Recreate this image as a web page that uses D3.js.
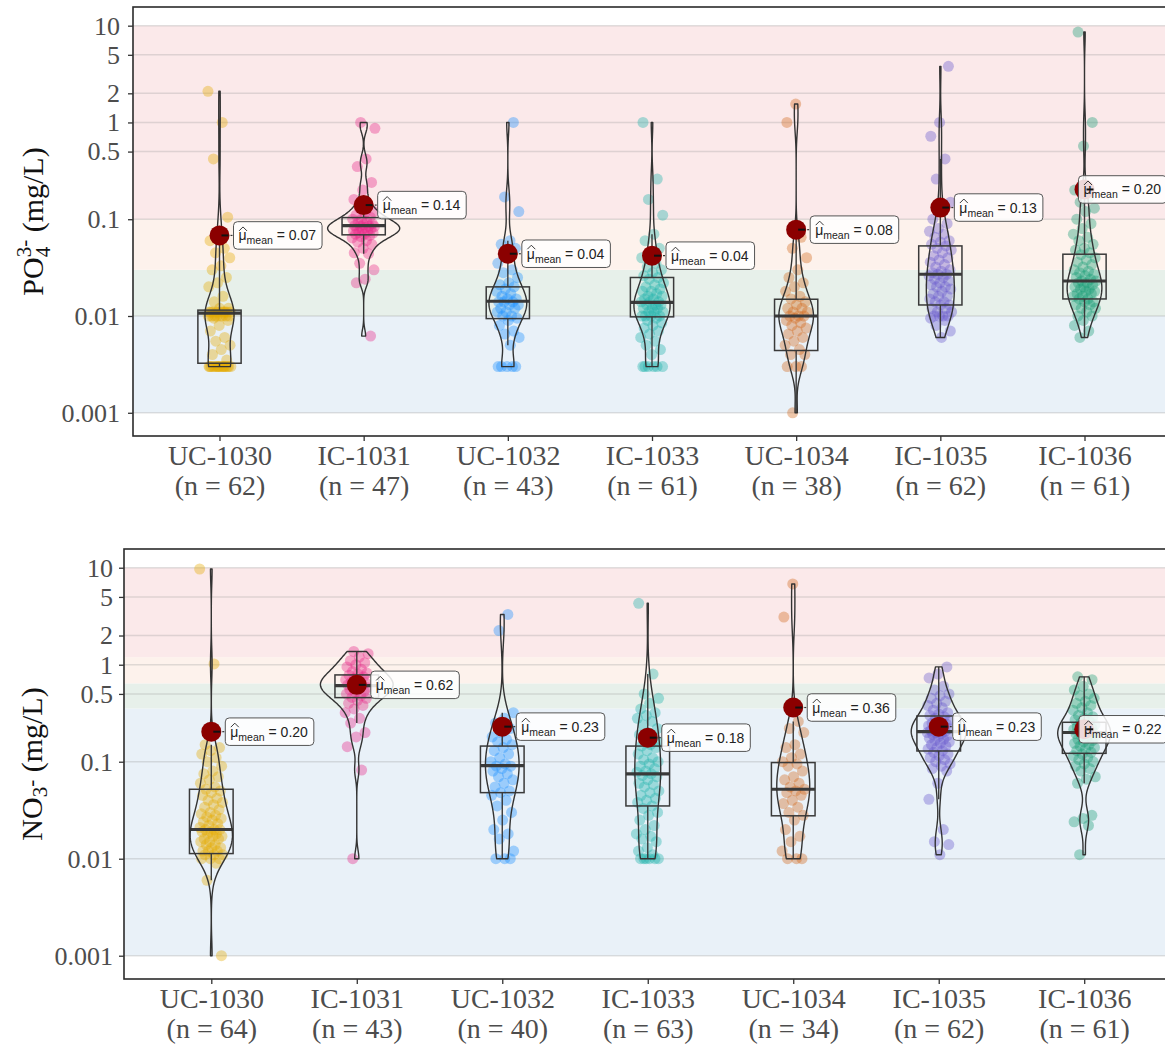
<!DOCTYPE html>
<html>
<head>
<meta charset="utf-8">
<script src="https://cdn.jsdelivr.net/npm/d3@7"></script>
<style>
  body { margin: 0; background: #fff; }
  svg { display: block; }
</style>
</head>
<body>
<div id="chart"></div>
<script>
const sites = ['UC-1030', 'IC-1031', 'UC-1032', 'IC-1033', 'UC-1034', 'IC-1035', 'IC-1036'];
const siteColors = ['#E6AB02', '#E7298A', '#1E90FF', '#20B2AA', '#D2691E', '#6A5ACD', '#1B9E77'];

const yTicks = [10, 5, 2, 1, 0.5, 0.1, 0.01, 0.001];
const yTickLabels = ['10', '5', '2', '1', '0.5', '0.1', '0.01', '0.001'];

// PO4 panel
const po4N = [62, 47, 43, 61, 38, 62, 61];
const po4Means = [0.068, 0.14, 0.044, 0.042, 0.078, 0.132, 0.203];
const po4Box = [ // q1, median, q3
  [0.00325, 0.0107, 0.0115],
  [0.069, 0.086, 0.104],
  [0.0094, 0.0142, 0.020],
  [0.0098, 0.0138, 0.025],
  [0.0044, 0.010, 0.0149],
  [0.013, 0.027, 0.053],
  [0.015, 0.023, 0.0435]
];
const po4Bands = [0.001, 0.01, 0.03, 0.1, 10];
const po4Values = [
  [2.1, 1.0, 0.42, 0.105, 0.07, 0.06, 0.05, 0.045, 0.04, 0.033, 0.03, 0.025, 0.022, 0.02, 0.016, 0.014,
   0.012, 0.012, 0.011, 0.011, 0.011, 0.011, 0.011, 0.011, 0.011, 0.011, 0.011, 0.011,
   0.01, 0.01, 0.01, 0.01, 0.01, 0.01, 0.01, 0.01,
   0.0095, 0.009, 0.008, 0.007, 0.006, 0.0055, 0.005, 0.0045, 0.004, 0.0035,
   0.003, 0.003, 0.003, 0.003, 0.003, 0.003, 0.003, 0.003, 0.003, 0.003, 0.003, 0.003, 0.003, 0.003, 0.003, 0.003],
  [1.0, 0.87, 0.42, 0.35, 0.24, 0.2, 0.16, 0.14, 0.13, 0.12, 0.115, 0.11, 0.105, 0.1, 0.1, 0.095, 0.092, 0.09,
   0.088, 0.086, 0.085, 0.085, 0.084, 0.082, 0.08, 0.08, 0.078, 0.076, 0.075, 0.073, 0.072, 0.07, 0.07, 0.068,
   0.066, 0.064, 0.06, 0.058, 0.055, 0.05, 0.045, 0.044, 0.035, 0.03, 0.024, 0.022, 0.0062],
  [1.0, 0.17, 0.12, 0.06, 0.055, 0.05, 0.04, 0.035, 0.03, 0.028, 0.025, 0.022, 0.021, 0.02, 0.019, 0.018, 0.017,
   0.016, 0.015, 0.015, 0.014, 0.014, 0.014, 0.013, 0.013, 0.012, 0.012, 0.011, 0.011, 0.01, 0.01, 0.0095, 0.009,
   0.008, 0.007, 0.0065, 0.006, 0.005, 0.003, 0.003, 0.003, 0.003, 0.003],
  [1.0, 0.26, 0.16, 0.11, 0.07, 0.06, 0.05, 0.045, 0.04, 0.035, 0.032, 0.03, 0.028, 0.026, 0.025, 0.024, 0.022,
   0.021, 0.02, 0.019, 0.018, 0.018, 0.017, 0.016, 0.016, 0.015, 0.015, 0.014, 0.014, 0.014, 0.013, 0.013, 0.013,
   0.012, 0.012, 0.012, 0.011, 0.011, 0.011, 0.01, 0.01, 0.01, 0.01, 0.0095, 0.009, 0.0085, 0.008, 0.0075, 0.007,
   0.0065, 0.006, 0.0055, 0.005, 0.0045, 0.004, 0.003, 0.003, 0.003, 0.003, 0.003, 0.003],
  [1.55, 1.0, 0.065, 0.05, 0.04, 0.03, 0.025, 0.022, 0.02, 0.018, 0.016, 0.015, 0.014, 0.013, 0.012, 0.012, 0.011,
   0.011, 0.01, 0.01, 0.01, 0.0095, 0.009, 0.0085, 0.008, 0.0075, 0.007, 0.0065, 0.006, 0.0055, 0.005, 0.0045,
   0.004, 0.004, 0.003, 0.003, 0.003, 0.001],
  [3.8, 1.0, 0.72, 0.42, 0.26, 0.15, 0.12, 0.1, 0.09, 0.08, 0.075, 0.07, 0.065, 0.06, 0.058, 0.055, 0.053, 0.05,
   0.048, 0.045, 0.042, 0.04, 0.038, 0.036, 0.034, 0.032, 0.03, 0.029, 0.028, 0.027, 0.027, 0.026, 0.025, 0.024,
   0.023, 0.022, 0.021, 0.02, 0.02, 0.019, 0.018, 0.017, 0.016, 0.016, 0.015, 0.014, 0.014, 0.013, 0.013, 0.012,
   0.012, 0.011, 0.011, 0.01, 0.01, 0.01, 0.01, 0.0095, 0.009, 0.008, 0.007, 0.006],
  [8.6, 1.0, 0.57, 0.2, 0.17, 0.15, 0.13, 0.12, 0.1, 0.09, 0.08, 0.07, 0.065, 0.06, 0.055, 0.05, 0.048, 0.045,
   0.043, 0.04, 0.038, 0.036, 0.034, 0.032, 0.03, 0.029, 0.028, 0.027, 0.026, 0.025, 0.024, 0.023, 0.023, 0.022,
   0.022, 0.021, 0.02, 0.02, 0.019, 0.019, 0.018, 0.018, 0.017, 0.017, 0.016, 0.016, 0.015, 0.015, 0.014, 0.014,
   0.013, 0.013, 0.012, 0.012, 0.011, 0.01, 0.01, 0.009, 0.008, 0.007, 0.006]
];

// NO3 panel
const no3N = [64, 43, 40, 63, 34, 62, 61];
const no3Means = [0.204, 0.62, 0.23, 0.177, 0.362, 0.23, 0.216];
const no3Box = [
  [0.0113, 0.020, 0.052],
  [0.458, 0.61, 0.785],
  [0.048, 0.091, 0.145],
  [0.035, 0.075, 0.145],
  [0.0277, 0.052, 0.098],
  [0.129, 0.204, 0.296],
  [0.122, 0.20, 0.255]
];
const no3Bands = [0.001, 0.354, 0.642, 1.196, 10];
const no3Values = [
  [9.7, 1.02, 0.15, 0.14, 0.13, 0.12, 0.11, 0.1, 0.09, 0.08, 0.075, 0.07, 0.065, 0.06, 0.055, 0.052, 0.05, 0.048,
   0.045, 0.042, 0.04, 0.038, 0.036, 0.034, 0.032, 0.03, 0.029, 0.028, 0.027, 0.026, 0.025, 0.024, 0.023, 0.022,
   0.021, 0.02, 0.02, 0.02, 0.019, 0.019, 0.018, 0.018, 0.017, 0.017, 0.016, 0.016, 0.015, 0.015, 0.014, 0.014,
   0.013, 0.013, 0.012, 0.012, 0.012, 0.011, 0.011, 0.011, 0.01, 0.01, 0.01, 0.009, 0.006, 0.001],
  [1.37, 1.3, 1.2, 1.1, 1.05, 1.0, 0.95, 0.9, 0.85, 0.82, 0.8, 0.78, 0.75, 0.72, 0.7, 0.68, 0.66, 0.65, 0.63,
   0.62, 0.61, 0.6, 0.58, 0.56, 0.55, 0.53, 0.52, 0.5, 0.48, 0.46, 0.45, 0.43, 0.4, 0.38, 0.35, 0.32, 0.28, 0.25,
   0.2, 0.18, 0.143, 0.082, 0.01],
  [3.3, 2.25, 0.32, 0.28, 0.25, 0.22, 0.2, 0.18, 0.17, 0.16, 0.15, 0.14, 0.13, 0.12, 0.11, 0.1, 0.095, 0.09, 0.09,
   0.085, 0.08, 0.075, 0.07, 0.065, 0.06, 0.055, 0.05, 0.048, 0.045, 0.04, 0.035, 0.03, 0.025, 0.02, 0.018, 0.016,
   0.012, 0.01, 0.01, 0.01],
  [4.3, 0.8, 0.5, 0.45, 0.4, 0.35, 0.32, 0.3, 0.28, 0.26, 0.24, 0.22, 0.2, 0.19, 0.18, 0.17, 0.16, 0.15, 0.145,
   0.14, 0.13, 0.12, 0.11, 0.105, 0.1, 0.095, 0.09, 0.085, 0.08, 0.078, 0.075, 0.072, 0.07, 0.065, 0.06, 0.058,
   0.055, 0.05, 0.048, 0.045, 0.042, 0.04, 0.038, 0.035, 0.033, 0.03, 0.028, 0.025, 0.022, 0.02, 0.018, 0.017,
   0.016, 0.015, 0.013, 0.012, 0.011, 0.01, 0.01, 0.01, 0.01, 0.01, 0.01],
  [6.8, 3.1, 0.26, 0.22, 0.2, 0.15, 0.14, 0.12, 0.11, 0.1, 0.095, 0.09, 0.08, 0.07, 0.065, 0.06, 0.055, 0.052,
   0.05, 0.048, 0.045, 0.04, 0.037, 0.034, 0.03, 0.028, 0.025, 0.02, 0.017, 0.015, 0.012, 0.01, 0.01, 0.01],
  [0.95, 0.8, 0.73, 0.6, 0.55, 0.5, 0.48, 0.45, 0.42, 0.4, 0.38, 0.36, 0.34, 0.32, 0.31, 0.3, 0.29, 0.28, 0.27,
   0.26, 0.25, 0.245, 0.24, 0.235, 0.23, 0.225, 0.22, 0.215, 0.21, 0.205, 0.2, 0.2, 0.195, 0.19, 0.185, 0.18,
   0.175, 0.17, 0.165, 0.16, 0.155, 0.15, 0.145, 0.14, 0.135, 0.13, 0.125, 0.12, 0.115, 0.11, 0.105, 0.1, 0.095,
   0.09, 0.085, 0.08, 0.06, 0.041, 0.02, 0.015, 0.014, 0.011],
  [0.75, 0.7, 0.6, 0.55, 0.5, 0.48, 0.45, 0.42, 0.4, 0.38, 0.36, 0.34, 0.32, 0.3, 0.29, 0.28, 0.27, 0.26, 0.25,
   0.24, 0.235, 0.23, 0.225, 0.22, 0.215, 0.21, 0.205, 0.2, 0.2, 0.195, 0.19, 0.185, 0.18, 0.175, 0.17, 0.165,
   0.16, 0.155, 0.15, 0.145, 0.14, 0.135, 0.13, 0.125, 0.12, 0.115, 0.11, 0.105, 0.1, 0.095, 0.09, 0.085, 0.08,
   0.07, 0.066, 0.06, 0.028, 0.026, 0.024, 0.022, 0.011]
];

const bandColors = ['#E9F1F8', '#E7F0EA', '#FDF2EC', '#FBE9EA'];
const yDomain = [Math.pow(10, -3.24), Math.pow(10, 1.193)];

const serif = '"Liberation Serif", "Times New Roman", Times, serif';
const sans = '"Liberation Sans", Arial, Helvetica, sans-serif';

const svg = d3.select('#chart').append('svg').attr('width', 1165).attr('height', 1044);

// gaussian kde on log10 values, silverman bandwidth like R's nrd0
function violinProfile(vals) {
  const lv = vals.map(Math.log10).sort(d3.ascending);
  const n = lv.length;
  const sd = d3.deviation(lv);
  const iqr = d3.quantile(lv, 0.75) - d3.quantile(lv, 0.25);
  let lo = Math.min(sd, iqr / 1.34);
  if (!lo) lo = sd;
  const bw = 0.9 * lo * Math.pow(n, -0.2);
  const [mn, mx] = d3.extent(lv);
  return d3.range(0, 257).map(k => {
    const t = mn + (mx - mn) * k / 256;
    const dens = d3.mean(lv, v => Math.exp(-0.5 * ((t - v) / bw) ** 2)) / (bw * Math.sqrt(2 * Math.PI));
    return [t, dens];
  });
}

function drawPanel(p) {
  const x = d3.scalePoint().domain(sites).range([p.left, p.right]).padding(0.6);
  const y = d3.scaleLog().domain(yDomain).range([p.bottom, p.top]);
  const step = x.step();
  const g = svg.append('g');

  g.selectAll('rect.band').data(d3.pairs(p.bands)).join('rect')
    .attr('class', 'band')
    .attr('x', p.left).attr('width', p.right - p.left)
    .attr('y', d => y(d[1])).attr('height', d => y(d[0]) - y(d[1]))
    .attr('fill', (d, i) => bandColors[i]);

  g.selectAll('line.grid').data(yTicks).join('line')
    .attr('class', 'grid')
    .attr('x1', p.left).attr('x2', p.right)
    .attr('y1', d => y(d)).attr('y2', d => y(d))
    .attr('stroke', '#9a9a9a').attr('stroke-opacity', 0.3).attr('stroke-width', 1.5);

  // jittered points
  p.values.forEach((vals, gi) => {
    const cx = x(sites[gi]);
    g.append('g').selectAll('circle').data(vals).join('circle')
      .attr('cx', (d, i) => cx + (((i * 0.618034 + gi * 0.37) % 1) - 0.5) * 0.16 * step)
      .attr('cy', d => y(d))
      .attr('r', 5.5)
      .attr('fill', siteColors[gi])
      .attr('fill-opacity', 0.38);
  });

  // boxplots
  p.box.forEach((b, gi) => {
    const cx = x(sites[gi]);
    const [q1, med, q3] = b;
    const l1 = Math.log10(q1), l3 = Math.log10(q3), iqr = l3 - l1;
    const vals = p.values[gi];
    const wlo = d3.min(vals.filter(v => Math.log10(v) >= l1 - 1.5 * iqr));
    const whi = d3.max(vals.filter(v => Math.log10(v) <= l3 + 1.5 * iqr));
    const bw = 0.15 * step;
    const bg = g.append('g').attr('stroke', '#3a3a3a').attr('fill', 'none');
    bg.append('line').attr('x1', cx).attr('x2', cx).attr('y1', y(q3)).attr('y2', y(whi)).attr('stroke-width', 1.4);
    bg.append('line').attr('x1', cx).attr('x2', cx).attr('y1', y(q1)).attr('y2', y(wlo)).attr('stroke-width', 1.4);
    bg.append('rect').attr('x', cx - bw).attr('width', 2 * bw)
      .attr('y', y(q3)).attr('height', y(q1) - y(q3)).attr('stroke-width', 1.5);
    bg.append('line').attr('x1', cx - bw).attr('x2', cx + bw)
      .attr('y1', y(med)).attr('y2', y(med)).attr('stroke-width', 3.2);
  });

  // violins (area scaled, shared max in panel)
  const profiles = p.values.map(violinProfile);
  const maxD = d3.max(profiles, pr => d3.max(pr, d => d[1]));
  const half = 0.25 * step;
  profiles.forEach((pr, gi) => {
    const cx = x(sites[gi]);
    const area = d3.area()
      .y(d => y(Math.pow(10, d[0])))
      .x0(d => cx - d[1] / maxD * half)
      .x1(d => cx + d[1] / maxD * half);
    g.append('path').attr('d', area(pr))
      .attr('fill', 'none').attr('stroke', '#333').attr('stroke-width', 1.4)
      .attr('stroke-linejoin', 'round');
  });

  // means
  const fmt = d3.format('.2f');
  p.means.forEach((m, gi) => {
    const cx = x(sites[gi]);
    const my = y(m);
    g.append('circle').attr('cx', cx).attr('cy', my).attr('r', 10).attr('fill', '#8B0000');

    const lab = g.append('g');
    const t = lab.append('text').attr('font-family', sans).attr('font-size', 14).attr('fill', '#222').attr('y', 5);
    t.append('tspan').text('μ');
    t.append('tspan').attr('font-size', 10.5).attr('dy', 4).text('mean');
    t.append('tspan').attr('dy', -4).text(' = ' + fmt(m));
    const tw = t.node().getComputedTextLength();
    const w = tw + 11, h = 27.5;
    let lx = cx + 14;
    if (lx + w > p.right - 4) lx = p.right - 4 - w;
    lab.attr('transform', `translate(${lx},${my})`);
    t.attr('x', 5);
    lab.insert('rect', 'text')
      .attr('x', 0).attr('y', -h / 2).attr('width', w).attr('height', h).attr('rx', 4)
      .attr('fill', '#fff').attr('fill-opacity', 0.85).attr('stroke', '#555').attr('stroke-width', 1);
    lab.append('path').attr('d', 'M5.5,-4.5 L9.5,-8.5 L13.5,-4.5')
      .attr('fill', 'none').attr('stroke', '#222').attr('stroke-width', 0.9);

    g.append('line').attr('x1', cx + 2).attr('x2', cx + 9).attr('y1', my).attr('y2', my)
      .attr('stroke', '#111').attr('stroke-width', 2);
    if (lx > cx + 11) {
      g.append('line').attr('x1', lx - 3).attr('x2', lx - 1).attr('y1', my).attr('y2', my)
        .attr('stroke', '#333').attr('stroke-width', 1.2);
    }
  });

  // frame
  g.append('rect').attr('x', p.left).attr('y', p.top)
    .attr('width', p.right - p.left).attr('height', p.bottom - p.top)
    .attr('fill', 'none').attr('stroke', '#2b2b2b').attr('stroke-width', 1.6);

  // y axis
  const ya = g.append('g').attr('transform', `translate(${p.left},0)`)
    .call(d3.axisLeft(y).tickValues(yTicks).tickFormat((d, i) => yTickLabels[i]).tickSize(5).tickPadding(p.tickPad));
  ya.select('.domain').remove();
  ya.selectAll('line').attr('stroke', '#333').attr('stroke-width', 1.3);
  ya.selectAll('text').attr('font-family', serif).attr('font-size', 26).attr('fill', '#4D4D4D');

  // x axis
  const xa = g.append('g').attr('transform', `translate(0,${p.bottom})`)
    .call(d3.axisBottom(x).tickSize(5).tickFormat(''));
  xa.select('.domain').remove();
  xa.selectAll('line').attr('stroke', '#333').attr('stroke-width', 1.3);
  xa.selectAll('.tick text').remove();
  xa.selectAll('.tick').append('text')
    .attr('font-family', serif).attr('font-size', 28).attr('fill', '#4D4D4D')
    .attr('text-anchor', 'middle')
    .each(function (d, i) {
      const t = d3.select(this);
      t.append('tspan').attr('x', 0).attr('y', 29).text(d);
      t.append('tspan').attr('x', 0).attr('y', 59).text(`(n = ${p.n[i]})`);
    });
}

drawPanel({ left: 133, right: 1171, top: 7, bottom: 436, tickPad: 8,
  values: po4Values, box: po4Box, means: po4Means, n: po4N, bands: po4Bands });
drawPanel({ left: 124, right: 1171.5, top: 549, bottom: 979, tickPad: 6,
  values: no3Values, box: no3Box, means: no3Means, n: no3N, bands: no3Bands });

// y titles
function yTitle(bx, cy, build) {
  const tg = svg.append('g').attr('transform', `translate(${bx},${cy}) rotate(-90)`);
  const t = tg.append('text').attr('font-family', serif).attr('font-size', 30).attr('fill', '#111');
  build(t);
  const bb = t.node().getBBox();
  t.attr('x', -bb.width / 2);
}

yTitle(43, 221.5, t => {
  t.append('tspan').text('PO');
  const sup = t.append('tspan').attr('font-size', 21).attr('dy', -12).text('3-');
  const sub = t.append('tspan').attr('font-size', 21).text('4');
  const rest = t.append('tspan').text(' (mg/L)');
  const ws = sup.node().getComputedTextLength();
  const wb = sub.node().getComputedTextLength();
  sub.attr('dx', -ws).attr('dy', 19);
  rest.attr('dx', Math.max(0, ws - wb)).attr('dy', -7);
});

yTitle(42, 764, t => {
  t.append('tspan').text('NO');
  t.append('tspan').attr('font-size', 21).attr('dy', 5).text('3');
  t.append('tspan').attr('font-size', 21).attr('dy', -9).text('-');
  t.append('tspan').attr('dy', 4).text(' (mg/L)');
});
</script>
</body>
</html>
